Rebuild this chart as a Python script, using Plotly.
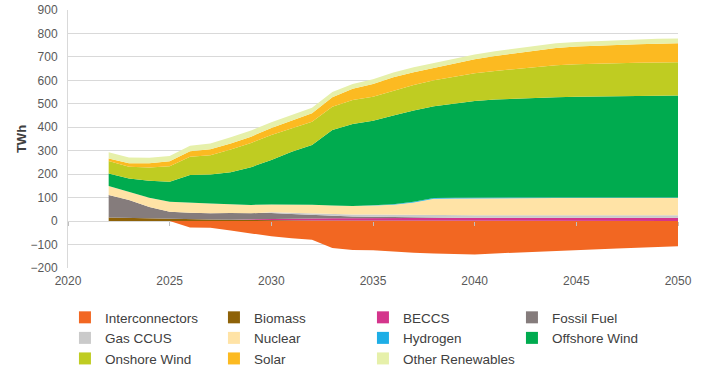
import plotly.graph_objects as go

years = list(range(2022, 2051))

interconnectors = [0, 0, 0, 0, -27, -28, -40, -52, -65, -73, -80, -115, -123, -124, -131, -135,
                   -138, -141, -142, -138, -134, -130, -126, -123, -120, -117, -114, -110, -107]
biomass = [15, 13, 10, 8, 7, 7, 6, 6, 5, 4, 3, 2, 2, 1, 1, 0, 0, 0, 0, 0, 0, 0, 0, 0, 0, 0, 0, 0, 0]
beccs = [0, 0, 0, 0, 0, 0, 0, 2, 4, 6, 8, 10, 11, 12, 13, 13, 13, 13, 13, 13, 13, 13, 13, 13, 13, 13, 13, 13, 13]
fossil_fuel = [96, 77, 50, 32, 29, 26, 28, 25, 26, 20, 15, 11, 7, 6, 3, 2, 1, 1, 1, 1, 1, 1, 1, 1, 1, 1, 1, 1, 1]
gas_ccus = [0, 0, 0, 0, 0, 0, 0, 0, 3, 5, 6, 7, 8, 9, 10, 10, 11, 11, 11, 11, 11, 11, 11, 11, 11, 11, 11, 11, 11]
nuclear = [39, 35, 40, 42, 44, 42, 38, 36, 33, 37, 38, 36, 36, 38, 43, 54, 70, 71, 72, 73, 73, 73, 73, 73, 73, 73, 73, 73, 73]
hydrogen = [0, 0, 0, 0, 0, 0, 0, 0, 0, 0, 0, 0, 0, 2, 2, 3, 3, 3, 3, 3, 3, 3, 3, 3, 3, 3, 3, 3, 3]
offshore_wind = [53, 57, 72, 86, 116, 124, 136, 161, 189, 224, 254, 322, 350, 360, 378, 390, 392, 403,
                 412, 417, 421, 425, 427, 429, 430, 431, 432, 433, 434]
onshore_wind = [53, 50, 57, 66, 78, 82, 97, 103, 107, 99, 100, 99, 102, 102, 105, 108, 111, 113, 118,
                122, 126, 131, 136, 139, 141, 142, 142, 142, 142]
solar = [11, 15, 18, 21, 24, 25, 26, 27, 30, 33, 36, 41, 48, 55, 58, 55, 52, 57, 60, 64, 68, 72, 74,
         75, 76, 77, 79, 80, 81]
other_renewables = [26, 24, 23, 22, 23, 25, 26, 26, 24, 23, 23, 22, 21, 20, 20, 21, 21, 20, 20, 20, 20,
                    20, 20, 20, 20, 21, 21, 21, 21]

series_names = ["Interconnectors", "Biomass", "BECCS", "Fossil Fuel", "Gas CCUS", "Nuclear",
                "Hydrogen", "Offshore Wind", "Onshore Wind", "Solar", "Other Renewables"]
series_values = [interconnectors, biomass, beccs, fossil_fuel, gas_ccus, nuclear, hydrogen,
                 offshore_wind, onshore_wind, solar, other_renewables]
colors = ["#F26722", "#8E6208", "#D4358C", "#857C7C", "#CACACA", "#FFE3A6", "#1EAEE6",
          "#00AB4F", "#BFCC22", "#FCBA21", "#E6F0AA"]

fig = go.Figure()

for name, vals, col in zip(series_names, series_values, colors):
    group = "neg" if name == "Interconnectors" else "pos"
    fig.add_trace(go.Scatter(
        x=years, y=vals, name=name, stackgroup=group, mode="lines",
        line=dict(width=0, color=col), fillcolor=col, showlegend=False,
        hoverinfo="x+y+name",
    ))

# legend entries as small squares
for name, col in zip(series_names, colors):
    fig.add_trace(go.Scatter(
        x=[None], y=[None], mode="markers", name=name,
        marker=dict(symbol="square", size=9, color=col), showlegend=True,
    ))

# helper axis on the zero line to carry tick marks
fig.add_trace(go.Scatter(x=[2020, 2050], y=[None, None], xaxis="x2", showlegend=False,
                         hoverinfo="skip"))

grid = "#D9D9D9"
font_family = "Liberation Sans, Arial, sans-serif"
tick_color = "#595959"

fig.update_layout(
    width=710, height=389,
    margin=dict(l=68, r=32, t=10, b=121, autoexpand=False),
    paper_bgcolor="white", plot_bgcolor="white",
    font=dict(family=font_family, size=12, color="#404040"),
    xaxis=dict(range=[2020, 2050], tickmode="linear", tick0=2020, dtick=5,
               showgrid=False, zeroline=False, showline=False, ticks="",
               ticklabelstandoff=4, automargin=False,
               tickfont=dict(size=12, color=tick_color)),
    xaxis2=dict(range=[2020, 2050], overlaying="x", anchor="free",
                position=200 / 1100, tickmode="linear", tick0=2020, dtick=5,
                showticklabels=False, ticks="outside", ticklen=4, tickcolor="#BFBFBF",
                showline=False, showgrid=False, zeroline=False, automargin=False),
    yaxis=dict(range=[-200, 900], tickmode="linear", dtick=100, showgrid=True,
               gridcolor=grid, gridwidth=1, zeroline=True, zerolinecolor=grid,
               zerolinewidth=1, showline=True, linecolor=grid, linewidth=1,
               ticks="", ticklabelstandoff=7, automargin=False,
               tickfont=dict(size=12, color=tick_color),
               title=dict(text="<b>TWh</b>", font=dict(size=13, color="#404040"), standoff=1)),
    legend=dict(orientation="h", x=-0.005, xanchor="left", y=-0.132, yanchor="top",
                entrywidth=104, entrywidthmode="pixels", itemwidth=30,
                font=dict(size=13.5, color="#404040"), traceorder="normal",
                tracegroupgap=0, itemsizing="constant"),
    showlegend=True,
)

# remove the browser's default body margin so the figure sits at the page corner
fig.write_html("out.html", config={"displayModeBar": False},
               post_script="document.body.style.margin='0';")
